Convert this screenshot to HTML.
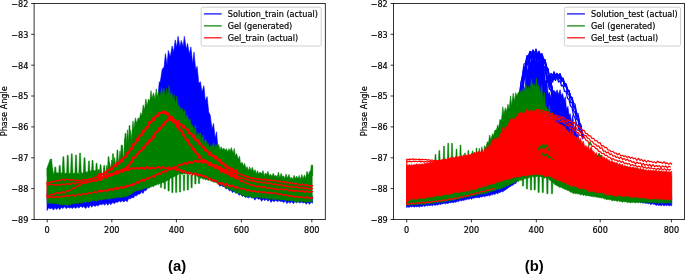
<!DOCTYPE html>
<html><head><meta charset="utf-8"><title>Phase Angle</title>
<style>
html,body{margin:0;padding:0;background:#fff;}
body{width:685px;height:274px;overflow:hidden;position:relative;}
svg{position:absolute;left:0;top:0;display:block;}
svg text{font-family:"DejaVu Sans","Liberation Sans",sans-serif;font-size:8.15px;fill:#000;stroke:#000;stroke-width:0.18px;}
svg text.cap{font-family:"Liberation Sans",sans-serif;font-weight:bold;font-size:14.8px;stroke:none;}
</style></head><body>
<svg width="685" height="274" viewBox="0 0 685 274">
<rect width="685" height="274" fill="#fff"/>
<g id="left">
<path d="M47 190.5 L48.6 191.6 L50.5 190.8 L51.6 191.1 L53.7 190.6 L54.9 190.7 L56.6 189.6 L58.4 190.5 L59.7 189.4 L61.4 190.3 L62.7 189.2 L64.8 190 L66.2 188.9 L67.7 190 L69.6 188.3 L70.9 189.7 L72.6 188.2 L74 189.6 L75.7 188.4 L77.2 188.9 L78.8 187.5 L80.8 188.6 L82.1 187.1 L83.8 188.1 L85.7 187.2 L87.3 188 L88.7 186.9 L90.2 187.8 L91.7 186.8 L93.2 187.4 L95.3 186.1 L96.6 187 L98 185.9 L99.9 187.6 L101.6 184.2 L103.1 185.1 L104.9 181.5 L105.9 183.4 L107.8 179.2 L109.4 178.9 L110.7 176.8 L112.7 177.1 L114.4 172.5 L115.9 173.9 L117.2 169.8 L119.2 170.8 L120.6 168.1 L122.2 168.1 L124 164.7 L125.2 164.6 L127.2 161.4 L128.7 162.3 L130.4 157.6 L131.6 158.6 L133.6 155.4 L134.8 155.8 L136.3 153.6 L138.4 154 L140 146.5 L141.6 144.8 L143 138.6 L144.5 136.2 L145.9 127.5 L147.9 126 L149.5 116.8 L151.2 122.3 L152.5 111.7 L154 115.2 L155.9 103.4 L157.6 99.3 L159.3 82.1 L160.4 81.2 L162.2 69.3 L164.1 67.1 L165.4 53.6 L167.1 64.8 L168.3 50.5 L170.3 57 L172.1 46 L173.6 52.3 L175.2 39.9 L176.7 47.6 L178 36.3 L180 47.2 L181.2 40.4 L183.2 46.4 L184.3 36.4 L186.4 49.3 L187.6 43.4 L189.3 54.2 L190.9 46.9 L192.7 64.1 L194 52.1 L195.7 69.7 L197.1 66.4 L198.8 83.2 L200.5 81.8 L201.9 92.1 L203.9 85.8 L205.3 101 L207.1 96.6 L208.7 112 L210.2 115.1 L212 128.8 L213.5 123.5 L215.2 138.3 L216.5 131.8 L218.2 151 L219.6 151.1 L221.7 160.6 L222.8 153 L224.4 166.7 L225.9 162 L227.6 166.9 L229.6 165 L231.1 170 L232.4 167.7 L234.1 172.4 L235.7 172.2 L237.5 175.2 L239 175.8 L240.7 179.5 L242.4 179.5 L243.9 181.6 L245.3 182 L247 185.6 L248.5 183.5 L250 187.3 L251.6 186.5 L253.3 187.5 L254.9 187 L256.5 187.7 L258.2 187.3 L260.1 188.5 L261.6 187.1 L263.2 189.1 L264.8 188.1 L266.3 189.3 L268.1 188.6 L269.5 189.7 L271 189.2 L272.3 190.7 L274.2 189.5 L275.6 191 L277.2 189.5 L279 191.6 L280.8 190.7 L282.1 191.7 L284 190.8 L285.4 192.8 L286.8 192.1 L288.9 193.5 L290.1 192.2 L291.7 193.4 L293.6 192 L294.8 194 L296.7 192.7 L298 194.4 L299.7 192.9 L301.2 195.3 L303.2 193.6 L304.5 195.7 L306.5 194.1 L307.9 196.5 L309.5 194.7 L311 196.9 L312.6 195.8 L312.6 203.2 L311 202 L309.5 204.4 L307.9 201.8 L306.5 204.3 L304.5 202.3 L303.2 203.1 L301.2 201.9 L299.7 203 L298 201.4 L296.7 203 L294.8 201.6 L293.6 203.8 L291.7 201.5 L290.1 203.3 L288.9 201.8 L286.8 203.5 L285.4 200.7 L284 202.6 L282.1 201.3 L280.8 201.6 L279 200.7 L277.2 201.5 L275.6 200.2 L274.2 201.8 L272.3 200.4 L271 202.4 L269.5 199.4 L268.1 201.2 L266.3 199.2 L264.8 200.7 L263.2 199 L261.6 201.3 L260.1 198.7 L258.2 199.2 L256.5 197.7 L254.9 200.2 L253.3 197.6 L251.6 198.1 L250 196.5 L248.5 197.9 L247 196.8 L245.3 197.5 L243.9 195.4 L242.4 196.4 L240.7 194.3 L239 195.3 L237.5 192.4 L235.7 193.3 L234.1 191.1 L232.4 192.7 L231.1 189.8 L229.6 191.1 L227.6 188 L225.9 189.1 L224.4 186.2 L222.8 186.8 L221.7 185.2 L219.6 186.2 L218.2 182.2 L216.5 181.8 L215.2 179.5 L213.5 179 L212 175.7 L210.2 176.2 L208.7 172.3 L207.1 172.3 L205.3 169.6 L203.9 171.8 L201.9 169.6 L200.5 171.1 L198.8 169.9 L197.1 170.6 L195.7 169.7 L194 170.6 L192.7 169.5 L190.9 170.6 L189.3 169 L187.6 170.4 L186.4 169.8 L184.3 172 L183.2 169.2 L181.2 170.7 L180 169.3 L178 170.5 L176.7 169.1 L175.2 170.6 L173.6 169.9 L172.1 171.7 L170.3 170 L168.3 171.7 L167.1 170.7 L165.4 173.3 L164.1 172.7 L162.2 174.9 L160.4 174.4 L159.3 176.5 L157.6 176.3 L155.9 180.1 L154 181.3 L152.5 184 L151.2 184.6 L149.5 188 L147.9 187.5 L145.9 190.8 L144.5 190.3 L143 193.5 L141.6 191.8 L140 194.1 L138.4 194.1 L136.3 195.9 L134.8 195.5 L133.6 197.9 L131.6 197.4 L130.4 199 L128.7 198.4 L127.2 201.7 L125.2 200.2 L124 202.1 L122.2 200.7 L120.6 202 L119.2 200.9 L117.2 202.5 L115.9 201.8 L114.4 203.7 L112.7 202.4 L110.7 204.8 L109.4 202.8 L107.8 205.3 L105.9 202.8 L104.9 205.3 L103.1 203.7 L101.6 204.8 L99.9 204.3 L98 206.1 L96.6 205 L95.3 206.4 L93.2 205.3 L91.7 207.3 L90.2 205 L88.7 208.1 L87.3 206.1 L85.7 208.5 L83.8 206.5 L82.1 207.6 L80.8 206.2 L78.8 208.1 L77.2 206.8 L75.7 208.5 L74 206.8 L72.6 208.6 L70.9 207.5 L69.6 208.1 L67.7 207.2 L66.2 208.7 L64.8 206.7 L62.7 208.6 L61.4 207.2 L59.7 209.7 L58.4 207.5 L56.6 209.5 L54.9 207.5 L53.7 210.1 L51.6 207.9 L50.5 208.9 L48.6 207.8 L47 210.5Z" fill="#0000ff" stroke="#0000ff" stroke-width="0.6" stroke-linejoin="round"/>
<path d="M47 168 L48.2 169.3 L49.5 165.2 L51.1 170.5 L52 168 L53.6 174.5 L54.9 172.3 L55.9 173.5 L57.2 172.4 L58.6 173.6 L60.1 172.8 L61.3 173.6 L62.4 172.2 L63.9 173.7 L65.3 173 L66.5 173.7 L67.9 172.5 L69.3 173.6 L70.5 172.9 L71.6 173.7 L72.8 173.2 L74.2 173.6 L75.6 172.4 L77.1 173.7 L78.3 172.9 L79.4 173.8 L81 172.4 L82.1 173.4 L83.5 172.2 L84.5 173.2 L85.8 171.5 L87.1 172.5 L88.8 170.7 L90 171.8 L91.4 170.2 L92.6 171.5 L93.8 170.2 L95.1 171.1 L96.4 170.2 L97.9 171 L99 169 L100.5 179.8 L101.7 176.1 L103.1 180.9 L104.2 167.6 L105.6 179.6 L106.7 165.3 L108.1 178.2 L109.3 161.9 L110.5 168.8 L111.8 160 L113.4 166.3 L114.6 157.4 L116.1 166.8 L117.4 158.3 L118.4 165.3 L120 150.9 L121.1 160.4 L122.5 145.4 L123.7 161.5 L124.8 138.5 L126.1 147.7 L127.4 129.8 L129 147.9 L130 130.1 L131.3 139 L133 120.9 L133.9 128.9 L135.4 117.8 L136.7 123.5 L138.1 117.8 L139.3 119.4 L140.8 112.7 L142 115.8 L143.2 104.9 L144.6 109.8 L145.8 98.9 L147.3 105.9 L148.3 99.1 L149.8 100.9 L151 90.7 L152.1 98.2 L153.5 92.8 L155.1 98.9 L156.3 88.8 L157.2 97.3 L158.7 91.8 L159.8 97.8 L161.6 87.6 L162.5 94.9 L163.8 88.3 L165.6 97.9 L166.6 88.5 L167.8 96.3 L169 85.7 L170.4 95.6 L171.7 92.2 L173.1 99.9 L174.1 94.9 L175.5 104.6 L176.8 96.2 L178.3 106.2 L179.5 105.6 L181 111.4 L182.1 108 L183.7 113 L185 109.7 L185.9 118.7 L187.2 114.6 L188.7 120.8 L190.1 119.2 L191.1 125.2 L192.4 125.1 L193.9 130.2 L195.3 125.4 L196.7 136.5 L198 133 L199.3 137.6 L200.2 132.5 L201.9 141 L203.1 134.9 L204.1 143.4 L205.5 138.8 L207 144.3 L208.1 143 L209.5 148.5 L211 144.8 L212.3 147.1 L213.4 142.7 L214.9 148.3 L216 144 L217.5 148.6 L218.7 144.4 L220.1 150.2 L221 146.7 L222.7 149.8 L223.8 147.9 L225.2 150.7 L226.2 148.6 L227.7 151.7 L228.9 148.7 L230.1 151.3 L231.3 147.6 L233.1 153.2 L234.3 148.4 L235.3 156 L236.7 153.6 L238.1 159.1 L239.6 156.2 L240.5 163.8 L242.2 162.3 L243.5 166.6 L244.5 163.2 L246 168.5 L247.1 166.7 L248.6 171.1 L249.6 166.8 L251.1 170.5 L252.4 167.3 L253.8 172 L255.1 169.7 L256.5 173.9 L257.5 170.7 L258.7 173.8 L260.1 172.1 L261.5 173.9 L263 170.6 L264.2 175.7 L265.5 173 L266.9 174.6 L267.9 171.3 L269.2 175.7 L270.6 174.1 L271.8 176.5 L273.3 173.2 L274.7 177.1 L275.6 175 L277.1 177.5 L278.5 172 L279.7 178 L281.2 173.3 L282.4 176.8 L283.8 175.9 L284.7 179 L286 173.9 L287.3 178.1 L289 174.4 L290.3 179.3 L291.1 177.1 L292.9 179.1 L294.1 175.3 L295.5 178.8 L296.5 176.1 L298 178.8 L299.1 175.4 L300.3 179.6 L301.9 174.6 L302.9 179 L304.5 174.9 L305.6 178.5 L307 171.3 L308.5 175.5 L309.5 171.4 L310.9 171.7 L312.2 166.2 L312.2 202.6 L310.9 201.7 L309.5 202.3 L308.5 201.4 L307 202.2 L305.6 201.7 L304.5 202.3 L302.9 201.3 L301.9 202 L300.3 201.3 L299.1 202 L298 201.3 L296.5 202.5 L295.5 201.4 L294.1 201.5 L292.9 200.8 L291.1 201.2 L290.3 200.5 L289 201 L287.3 200.1 L286 201.1 L284.7 199.9 L283.8 200.5 L282.4 199.6 L281.2 200.3 L279.7 199.6 L278.5 200 L277.1 199 L275.6 200.1 L274.7 199 L273.3 200 L271.8 198.4 L270.6 199.4 L269.2 198.1 L267.9 199.4 L266.9 197.9 L265.5 199.1 L264.2 197.5 L263 198.8 L261.5 197.2 L260.1 198.5 L258.7 196.9 L257.5 198 L256.5 196.7 L255.1 198.1 L253.8 196.9 L252.4 197.6 L251.1 196.8 L249.6 196.9 L248.6 196.2 L247.1 197.3 L246 196.1 L244.5 196.4 L243.5 194.7 L242.2 195.7 L240.5 194 L239.6 194.1 L238.1 192.7 L236.7 193.4 L235.3 191.9 L234.3 192.1 L233.1 190.6 L231.3 190.4 L230.1 189.2 L228.9 189.2 L227.7 188.3 L226.2 188.4 L225.2 186.9 L223.8 187 L222.7 185.6 L221 185.5 L220.1 184.1 L218.7 184.1 L217.5 182.8 L216 182.7 L214.9 182 L213.4 182.3 L212.3 181.3 L211 181.1 L209.5 180 L208.1 180.6 L207 179.2 L205.5 179.9 L204.1 178.6 L203.1 179.4 L201.9 177.9 L200.2 178.3 L199.3 176.6 L198 177.2 L196.7 175 L195.3 175.5 L193.9 173.6 L192.4 174.4 L191.1 173.3 L190.1 174.3 L188.7 173.9 L187.2 174.5 L185.9 173.6 L185 174.2 L183.7 173.6 L182.1 174.6 L181 173.9 L179.5 174.5 L178.3 174.2 L176.8 175.5 L175.5 175.8 L174.1 176.8 L173.1 176.8 L171.7 177.9 L170.4 178 L169 180.3 L167.8 180 L166.6 181.1 L165.6 181.2 L163.8 182.8 L162.5 182.5 L161.6 183.4 L159.8 183.2 L158.7 184.5 L157.2 184.1 L156.3 185.3 L155.1 184.9 L153.5 186.6 L152.1 186.3 L151 187.1 L149.8 186.8 L148.3 188.2 L147.3 187.4 L145.8 188.3 L144.6 188.2 L143.2 189.2 L142 189.1 L140.8 190.3 L139.3 189.7 L138.1 191.1 L136.7 190.5 L135.4 191.5 L133.9 191.7 L133 192.9 L131.3 193.6 L130 195 L129 195.1 L127.4 196.2 L126.1 196.3 L124.8 197.2 L123.7 196.5 L122.5 197.2 L121.1 197.1 L120 197.8 L118.4 197.1 L117.4 198 L116.1 197.4 L114.6 198.4 L113.4 197.8 L111.8 198.6 L110.5 198.4 L109.3 199.6 L108.1 198.4 L106.7 199.3 L105.6 198.6 L104.2 199.5 L103.1 199.1 L101.7 200.2 L100.5 199.5 L99 200.3 L97.9 200.2 L96.4 201.2 L95.1 200.4 L93.8 201.1 L92.6 200.6 L91.4 201.7 L90 201.3 L88.8 202.2 L87.1 201.6 L85.8 202.7 L84.5 201.8 L83.5 202.9 L82.1 202.6 L81 203.4 L79.4 202.6 L78.3 203.5 L77.1 203.2 L75.6 203.7 L74.2 203.2 L72.8 204.1 L71.6 203.8 L70.5 205 L69.3 204.3 L67.9 205.6 L66.5 204.7 L65.3 205.4 L63.9 204.2 L62.4 205.2 L61.3 204.3 L60.1 205.1 L58.6 203.7 L57.2 204 L55.9 203.6 L54.9 203.8 L53.6 202.9 L52 203.5 L51.1 202.9 L49.5 203.5 L48.2 202.9 L47 203.5Z" fill="#008000" stroke="#008000" stroke-width="0.6" stroke-linejoin="round"/>
<path d="M47 176L47 168L50.3 159L51.6 159L53.2 176ZM54 176L54.8 167L55.8 167L56.5 176ZM58.5 176L59.2 165.4L60.2 165.4L61 176ZM62.1 176L62.9 156.7L63.9 156.7L64.7 176ZM66.5 175.2L67.2 155.2L68.2 155.2L69 175.2ZM70.5 173.8L71.3 153.8L72.2 153.8L73 173.8ZM74.8 175L75.5 155L76.5 155L77.2 175ZM78.8 173L79.6 153L80.5 153L81.3 173ZM83.2 176L84 157.8L85 157.8L85.8 176ZM87.7 176L88.5 161L89.4 161L90.2 176ZM91.3 176L92.1 160.3L93 160.3L93.8 176ZM95.3 176L96.1 163.2L97 163.2L97.8 176ZM99.3 176L100.1 164.7L101 164.7L101.8 176ZM103 176L103.8 165.4L104.7 165.4L105.5 176ZM107.3 176L108.1 156.7L109 156.7L109.8 176ZM111.8 173.8L112.5 153.8L113.5 153.8L114.2 173.8ZM116.2 170L117 150L117.9 150L118.7 170ZM120.3 165L121.1 145L122 145L122.8 165ZM124.2 153.4L125 133.4L126 133.4L126.8 153.4ZM128.2 145.5L129.1 125.5L129.9 125.5L130.8 145.5Z" fill="#008000" stroke="#008000" stroke-width="0.5" stroke-linejoin="round"/>
<path d="M160.2 175L160.4 187.5L161.6 187.5L161.8 175ZM164 175L164.2 189L165.4 189L165.7 175ZM167.8 175L168 191L169.2 191L169.4 175ZM171.6 175L171.8 192.6L173 192.6L173.2 175ZM175.3 175L175.6 192.4L176.8 192.4L177 175ZM179.2 175L179.4 192L180.6 192L180.8 175ZM183.2 175L183.4 190.6L184.6 190.6L184.8 175ZM187 175L187.2 190L188.4 190L188.7 175ZM190.8 175L191 187.8L192.2 187.8L192.4 175ZM194.6 175L194.8 184L196 184L196.2 175ZM198.2 175L198.4 183.5L199.6 183.5L199.8 175ZM310 176L311.3 165L312.7 165L312.7 176Z" fill="#008000" stroke="#008000" stroke-width="0.5" stroke-linejoin="round"/>
<path d="M47 182 L48.6 183.1 L50.2 181.9 L51.8 182.2 L53.4 181.1 L55 181.5 L56.6 180.7 L58.2 181 L59.8 179.8 L61.4 180.3 L63 179.2 L64.6 180.3 L66.2 179.1 L67.8 179.9 L69.4 179.2 L71 180.4 L72.6 179.6 L74.2 180.6 L75.8 179.7 L77.4 181.2 L79 179.9 L80.6 180.9 L82.2 179.6 L83.8 180.6 L85.4 179.2 L87 180.2 L88.6 179.1 L90.2 179.5 L91.8 178 L93.4 178.8 L95 177.3 L96.6 177.3 L98.2 174.4 L99.8 176.7" fill="none" stroke="#ff0000" stroke-width="1.3" stroke-linejoin="round" stroke-linecap="round"/>
<path d="M98.2 174.4 L99.8 176.7 L101.4 173.6 L103 174.6 L104.6 172.3 L106.2 172.7 L107.8 169.8 L109.4 170.5 L111 168 L112.6 168.6 L114.2 165.3 L115.8 166.3 L117.4 162.4 L119 163.8 L120.6 160.5 L122.2 161.1 L123.8 157 L125.4 157.4 L127 153.2 L128.6 153.5 L130.2 148.4 L131.8 149.1 L133.4 144.1 L135 144.3 L136.6 139.2 L138.2 140.1 L139.8 135 L141.4 135.5 L143 130.8 L144.6 131.4 L146.2 127 L147.8 127.5 L149.4 121.9 L151 123 L152.6 118.7 L154.2 120.1 L155.8 115.5 L157.4 116.7 L159 113 L160.6 113.2 L162.2 111.7 L163.8 113.5 L165.4 111.5 L167 114.1 L168.6 113.6 L170.2 117.8 L171.8 116.8 L173.4 122.1 L175 121.9 L176.6 126.6 L178.2 125.6 L179.8 130.3 L181.4 130.5 L183 134.7 L184.6 135.6 L186.2 140.5 L187.8 139.9 L189.4 144.3 L191 144.7 L192.6 149.4 L194.2 149 L195.8 152.8 L197.4 153.7 L199 157.5 L200.6 156.5 L202.2 161 L203.8 160 L205.4 161.5 L207 161.1 L208.6 164.2 L210.2 163 L211.8 165.5 L213.4 164.6 L215 167.1 L216.6 165.4 L218.2 168.2 L219.8 167 L221.4 170.2 L223 168.9 L224.6 170.8 L226.2 169.7 L227.8 172.4 L229.4 171.1 L231 174.1 L232.6 172.3 L234.2 176.6 L235.8 174.4 L237.4 176.8" fill="none" stroke="#ff0000" stroke-width="2.2" stroke-linejoin="round" stroke-linecap="round"/>
<path d="M237.4 176.8 L239 176.7 L240.6 178.5 L242.2 177.5 L243.8 178.8 L245.4 178.6 L247 179.9 L248.6 179.8 L250.2 180.9 L251.8 180 L253.4 181.6 L255 181 L256.6 182.1 L258.2 181.4 L259.8 182.7 L261.4 182.1 L263 183 L264.6 182.3 L266.2 183.3 L267.8 182.8 L269.4 184 L271 183.3 L272.6 184.5 L274.2 183.9 L275.8 184.9 L277.4 184.1 L279 185.4 L280.6 184.4 L282.2 185.5 L283.8 185.3 L285.4 186.3 L287 186 L288.6 186.8 L290.2 186.3 L291.8 187.5 L293.4 186.5 L295 187.5 L296.6 186.7 L298.2 187.9 L299.8 187.7 L301.4 188.2 L303 187.5 L304.6 188.5 L306.2 187.9 L307.8 188.9 L309.4 188.3 L311 189.1 L312.6 188.4" fill="none" stroke="#ff0000" stroke-width="1.4" stroke-linejoin="round" stroke-linecap="round"/>
<path d="M47 184 L48.6 185 L50.2 184.1 L51.8 185 L53.4 184.4 L55 185.5 L56.6 184.7 L58.2 185.2 L59.8 184.2 L61.4 185.1 L63 184 L64.6 184.7 L66.2 183.6 L67.8 184.4 L69.4 183.5 L71 184.3 L72.6 182.8 L74.2 184 L75.8 182.5 L77.4 183.4 L79 182.2 L80.6 182.8 L82.2 181.9 L83.8 182.4 L85.4 181.3 L87 181.9 L88.6 181.2 L90.2 181.7 L91.8 180.2 L93.4 180.9 L95 179.5 L96.6 180.4 L98.2 177.7 L99.8 180.3" fill="none" stroke="#ff0000" stroke-width="1.3" stroke-linejoin="round" stroke-linecap="round"/>
<path d="M98.2 177.7 L99.8 180.3 L101.4 177.1 L103 177.7 L104.6 175.6 L106.2 177.5 L107.8 174.3 L109.4 176.1 L111 174 L112.6 174.9 L114.2 172.4 L115.8 173.9 L117.4 170.9 L119 172.6 L120.6 170.3 L122.2 171.1 L123.8 168.5 L125.4 170.5 L127 166.8 L128.6 167.1 L130.2 162.1 L131.8 162 L133.4 157.2 L135 158.1 L136.6 154.2 L138.2 153.7 L139.8 151.2 L141.4 150.9 L143 147.5 L144.6 147.8 L146.2 143.3 L147.8 143.7 L149.4 140.2 L151 141 L152.6 136.6 L154.2 137.3 L155.8 132 L157.4 131.8 L159 128.4 L160.6 129 L162.2 124.9 L163.8 125 L165.4 121.5 L167 121.7 L168.6 117.6 L170.2 120.1 L171.8 117.7 L173.4 120.3 L175 119.7 L176.6 123.8 L178.2 121.1 L179.8 125.3 L181.4 124.3 L183 127.5 L184.6 126.4 L186.2 129.4 L187.8 129.7 L189.4 133.8 L191 133 L192.6 136.6 L194.2 136 L195.8 140.7 L197.4 139.5 L199 143.6 L200.6 143.5 L202.2 147.1 L203.8 147.1 L205.4 150.9 L207 149.8 L208.6 154.3 L210.2 152.7 L211.8 156.3 L213.4 155.3 L215 158.3 L216.6 157 L218.2 160.7 L219.8 159.7 L221.4 163.6 L223 162.8 L224.6 166 L226.2 165.3 L227.8 168.4 L229.4 167.2 L231 170 L232.6 168.8 L234.2 171.9 L235.8 170.1 L237.4 173" fill="none" stroke="#ff0000" stroke-width="2.2" stroke-linejoin="round" stroke-linecap="round"/>
<path d="M237.4 173 L239 173.4 L240.6 174.6 L242.2 174.4 L243.8 176 L245.4 175.6 L247 177.1 L248.6 176.6 L250.2 178 L251.8 177.4 L253.4 179 L255 178 L256.6 179 L258.2 178.7 L259.8 179.6 L261.4 178.8 L263 179.9 L264.6 179.2 L266.2 180.6 L267.8 179.2 L269.4 180.6 L271 179.8 L272.6 180.9 L274.2 180 L275.8 181.2 L277.4 180.6 L279 181.8 L280.6 181.3 L282.2 182.1 L283.8 181.5 L285.4 183.1 L287 182 L288.6 183 L290.2 182.5 L291.8 183.6 L293.4 183.1 L295 184.2 L296.6 183.4 L298.2 184.7 L299.8 184.3 L301.4 185.3 L303 184 L304.6 185.5 L306.2 184.6 L307.8 185.9 L309.4 185.1 L311 186.5 L312.6 185.6" fill="none" stroke="#ff0000" stroke-width="1.4" stroke-linejoin="round" stroke-linecap="round"/>
<path d="M47 196.3 L48.6 197.6 L50.2 196.6 L51.8 197.6 L53.4 196.6 L55 197.6 L56.6 196.6 L58.2 197.4 L59.8 196 L61.4 197.3 L63 196 L64.6 196.4 L66.2 195.4 L67.8 196.8 L69.4 195.1 L71 195.7 L72.6 194.8 L74.2 196.2 L75.8 194.6 L77.4 195.3 L79 194 L80.6 195.1 L82.2 193.7 L83.8 194.7 L85.4 193.3 L87 194.3 L88.6 192.8 L90.2 193.6 L91.8 192.3 L93.4 193 L95 191.5 L96.6 192.7 L98.2 190.8 L99.8 191.8" fill="none" stroke="#ff0000" stroke-width="1.3" stroke-linejoin="round" stroke-linecap="round"/>
<path d="M98.2 190.8 L99.8 191.8 L101.4 190.1 L103 191.4 L104.6 190.4 L106.2 191 L107.8 189.5 L109.4 190.4 L111 188.8 L112.6 190 L114.2 188.1 L115.8 189.4 L117.4 187.3 L119 188.8 L120.6 186.8 L122.2 188.1 L123.8 186.3 L125.4 187.7 L127 185.4 L128.6 186.2 L130.2 184.8 L131.8 185.7 L133.4 183.3 L135 184.7 L136.6 181.9 L138.2 183.1 L139.8 180.4 L141.4 181.4 L143 179.2 L144.6 180.8 L146.2 178.4 L147.8 179.1 L149.4 177.4 L151 177.5 L152.6 176 L154.2 177 L155.8 174.4 L157.4 175 L159 173.2 L160.6 174.1 L162.2 171.9 L163.8 172.4 L165.4 170.5 L167 171.6 L168.6 168.9 L170.2 169.2 L171.8 167.8 L173.4 168.1 L175 166.7 L176.6 167.6 L178.2 165.1 L179.8 165.5 L181.4 164 L183 164.7 L184.6 162.8 L186.2 164.3 L187.8 161.9 L189.4 163.5 L191 161.8 L192.6 162.9 L194.2 160.8 L195.8 162.2 L197.4 160.4 L199 162.1 L200.6 160.6 L202.2 162.9 L203.8 161.4 L205.4 163 L207 162.5 L208.6 165.1 L210.2 164.5 L211.8 166.2 L213.4 165.9 L215 168.1 L216.6 167.6 L218.2 169.3 L219.8 168.8 L221.4 172.3 L223 170.8 L224.6 172.9 L226.2 172.1 L227.8 174.8 L229.4 174.3 L231 176.5 L232.6 175.7 L234.2 177.8 L235.8 177.1 L237.4 179" fill="none" stroke="#ff0000" stroke-width="1.7" stroke-linejoin="round" stroke-linecap="round"/>
<path d="M237.4 179 L239 178.9 L240.6 181.4 L242.2 180.7 L243.8 182.5 L245.4 182.3 L247 183.8 L248.6 183.8 L250.2 185.2 L251.8 184.6 L253.4 186.1 L255 185.6 L256.6 186.8 L258.2 186 L259.8 187.3 L261.4 186.3 L263 187.1 L264.6 186.8 L266.2 188.4 L267.8 187.4 L269.4 188.6 L271 187.8 L272.6 188.8 L274.2 188.6 L275.8 189.6 L277.4 188.8 L279 190 L280.6 188.9 L282.2 189.6 L283.8 189.1 L285.4 190.1 L287 189 L288.6 190.9 L290.2 190 L291.8 191.3 L293.4 190.2 L295 191.3 L296.6 190.5 L298.2 191.5 L299.8 190.8 L301.4 191.9 L303 190.6 L304.6 192.2 L306.2 190.9 L307.8 192.3 L309.4 191.5 L311 192.1 L312.6 191.6" fill="none" stroke="#ff0000" stroke-width="1.4" stroke-linejoin="round" stroke-linecap="round"/>
<path d="M47 195.5 L48.6 196.1 L50.2 194.3 L51.8 195.3 L53.4 193.6 L55 194 L56.6 192.6 L58.2 193.3 L59.8 192.3 L61.4 193.5 L63 191.4 L64.6 192.8 L66.2 190.9 L67.8 191.5 L69.4 189.8 L71 190.2 L72.6 188.3 L74.2 188.4 L75.8 186.3 L77.4 186.7 L79 184.9 L80.6 185 L82.2 183.2 L83.8 183.6 L85.4 182 L87 183.2 L88.6 181.6 L90.2 182 L91.8 180.4 L93.4 181.7 L95 180.4 L96.6 181 L98.2 178.9 L99.8 180.1" fill="none" stroke="#ff0000" stroke-width="1.3" stroke-linejoin="round" stroke-linecap="round"/>
<path d="M98.2 178.9 L99.8 180.1 L101.4 178.4 L103 178.8 L104.6 176.5 L106.2 177.7 L107.8 176.3 L109.4 176.7 L111 173.9 L112.6 174.9 L114.2 173 L115.8 174.5 L117.4 172.4 L119 173 L120.6 170.5 L122.2 172 L123.8 169.7 L125.4 170.9 L127 168.6 L128.6 170 L130.2 168.7 L131.8 168.8 L133.4 167.8 L135 169 L136.6 167.9 L138.2 168.9 L139.8 167.5 L141.4 168.8 L143 167.4 L144.6 169 L146.2 166.7 L147.8 168.8 L149.4 167 L151 169 L152.6 167.5 L154.2 168.7 L155.8 167.4 L157.4 167.8 L159 166.8 L160.6 168.7 L162.2 166.6 L163.8 168.3 L165.4 167.5 L167 168.6 L168.6 167.1 L170.2 169.3 L171.8 167.8 L173.4 169.4 L175 168.3 L176.6 170.2 L178.2 168.9 L179.8 171.4 L181.4 169.7 L183 172.2 L184.6 171.2 L186.2 173 L187.8 172.1 L189.4 174 L191 172.4 L192.6 174.7 L194.2 173.1 L195.8 175 L197.4 173.7 L199 175.6 L200.6 174.8 L202.2 176 L203.8 175.6 L205.4 177.3 L207 176.9 L208.6 179.4 L210.2 178.4 L211.8 180.6 L213.4 179.6 L215 181.2 L216.6 180.8 L218.2 183.8 L219.8 182.6 L221.4 184.3 L223 183 L224.6 185.8 L226.2 183.3 L227.8 186.1 L229.4 184.7 L231 186.7 L232.6 185.4 L234.2 187.4 L235.8 186.7 L237.4 188.2" fill="none" stroke="#ff0000" stroke-width="1.7" stroke-linejoin="round" stroke-linecap="round"/>
<path d="M237.4 188.2 L239 187.3 L240.6 188.9 L242.2 188.4 L243.8 189.7 L245.4 189 L247 190.7 L248.6 189.8 L250.2 191.1 L251.8 190.6 L253.4 191.8 L255 191 L256.6 192 L258.2 191.2 L259.8 192.5 L261.4 191.7 L263 192.5 L264.6 191.9 L266.2 193.1 L267.8 192 L269.4 193.6 L271 192.5 L272.6 193.4 L274.2 192.9 L275.8 193.6 L277.4 193.3 L279 194.3 L280.6 193.8 L282.2 195.3 L283.8 194.3 L285.4 195.3 L287 194.9 L288.6 196.1 L290.2 195.5 L291.8 196.6 L293.4 195.8 L295 197.4 L296.6 196.4 L298.2 197.4 L299.8 196.7 L301.4 197.6 L303 196.8 L304.6 198 L306.2 196.7 L307.8 198.1 L309.4 197 L311 198.8 L312.6 197.6" fill="none" stroke="#ff0000" stroke-width="1.4" stroke-linejoin="round" stroke-linecap="round"/>
<path d="M47.2 182V199" stroke="#ff0000" stroke-width="1.2" fill="none"/>
<path d="M34.1 3.5h-2.9M34.1 34.3h-2.9M34.1 65.2h-2.9M34.1 96h-2.9M34.1 126.9h-2.9M34.1 157.8h-2.9M34.1 188.6h-2.9M34.1 219.5h-2.9M47.2 219.5v2.9M111.8 219.5v2.9M176.4 219.5v2.9M241.4 219.5v2.9M311.8 219.5v2.9" stroke="#000" stroke-width="0.8" fill="none"/>
<rect x="34.1" y="3.5" width="291.2" height="216.1" fill="none" stroke="#000" stroke-width="0.8"/>
<text x="28.4" y="6.8" text-anchor="end">−82</text>
<text x="28.4" y="37.7" text-anchor="end">−83</text>
<text x="28.4" y="68.5" text-anchor="end">−84</text>
<text x="28.4" y="99.4" text-anchor="end">−85</text>
<text x="28.4" y="130.3" text-anchor="end">−86</text>
<text x="28.4" y="161.1" text-anchor="end">−87</text>
<text x="28.4" y="192" text-anchor="end">−88</text>
<text x="28.4" y="222.8" text-anchor="end">−89</text>
<text x="47.2" y="232.7" text-anchor="middle">0</text>
<text x="111.8" y="232.7" text-anchor="middle">200</text>
<text x="176.4" y="232.7" text-anchor="middle">400</text>
<text x="241.4" y="232.7" text-anchor="middle">600</text>
<text x="311.8" y="232.7" text-anchor="middle">800</text>
<rect x="201.2" y="7.2" width="120" height="38.8" rx="1.6" fill="#fff" fill-opacity="0.8" stroke="#c4c4c4" stroke-width="0.8"/>
<path d="M203.9 13.9h17.8" stroke="#0000ff" stroke-width="1.2"/>
<text x="227.8" y="16.8">Solution_train (actual)</text>
<path d="M203.9 25.9h17.8" stroke="#008000" stroke-width="1.2"/>
<text x="227.8" y="28.8">Gel (generated)</text>
<path d="M203.9 37.8h17.8" stroke="#ff0000" stroke-width="1.2"/>
<text x="227.8" y="40.7">Gel_train (actual)</text>
<text transform="translate(6.9 111.2) rotate(-90)" text-anchor="middle">Phase Angle</text>
</g>
<g id="right">
<path d="M406.5 190.8 L407.6 191.8 L409 190.3 L410.6 190.6 L411.7 189.2 L412.8 190.3 L414.3 189 L415.6 189.3 L416.7 188.5 L418.3 188.7 L419.3 187.9 L420.7 188.1 L422.1 186 L423.4 187.3 L424.7 185 L426.1 187 L427.5 184.3 L428.5 185.9 L430 183.9 L431.3 185.4 L432.4 184 L433.5 184.8 L435.3 182.2 L436.3 183.8 L437.6 182.3 L439.2 183.4 L440.3 181.7 L441.6 182.4 L443 181.3 L444 181.6 L445.6 180.2 L446.7 181 L447.9 179.7 L449.5 180.8 L450.9 179.2 L451.8 179.4 L453.4 178.2 L454.5 178.6 L456 176.9 L457.3 178.1 L458.4 177 L460 177.2 L461.2 175.9 L462.5 177.2 L463.9 175.4 L465 176.6 L466.4 173.7 L467.8 175.3 L468.7 174.1 L470.4 174.4 L471.4 172.9 L472.8 173.8 L473.9 173 L475.5 173.1 L476.6 170.9 L478.2 172.2 L479.2 171.5 L480.6 172.6 L481.8 168.4 L483.3 169.6 L484.3 165.1 L485.6 166 L487.2 162.1 L488.5 162.8 L489.7 157.5 L491.2 159.1 L492.1 155.7 L493.8 155.4 L494.7 153.2 L496.4 153.2 L497.6 148.9 L498.9 149.4 L500.3 145.4 L501.5 146.8 L502.9 142.1 L503.8 142.6 L505.2 139.9 L506.4 140.6 L507.7 136.1 L509.1 137.2 L510.7 131.1 L511.6 133.2 L513 129.7 L514.4 129.9 L515.9 126.5 L517.2 127.1 L518.4 118.7 L519.5 120 L520.9 112.3 L522.3 107.5 L523.3 85.2 L524.9 89.8 L526 70.1 L527.4 69.9 L528.8 62.4 L530.1 62.2 L531.3 58.2 L532.6 60.2 L533.7 55.4 L535.2 60.7 L536.3 55.6 L537.8 62.1 L539.1 58.9 L540.5 63.9 L541.6 60.4 L542.8 67.5 L544.3 66 L545.4 81.6 L547 81.8 L548.1 93.7 L549.4 92.3 L551 97.4 L552 93.7 L553.3 96.3 L554.6 90.7 L556 92.9 L557.1 89.8 L558.6 94.5 L560.1 89.7 L561.2 95.6 L562.6 93.5 L564 100.1 L565.3 96.8 L566.5 109.3 L567.9 106.4 L569.2 116 L570.2 113.7 L571.6 122.6 L572.8 115.1 L574.1 131 L575.5 122.7 L576.7 136.2 L578.2 132.8 L579.4 144.2 L580.5 139.1 L582 148.4 L583.2 146.5 L584.7 153.8 L585.7 151.8 L587 159.3 L588.5 152.3 L589.8 163.6 L591.2 157.9 L592.3 163.9 L593.5 163.3 L595.2 167.7 L596.2 166.7 L597.4 171.6 L598.8 172.8 L600.1 175.4 L601.4 172.6 L602.8 174.7 L604.3 174.2 L605.2 176.2 L606.7 175.1 L608.1 177 L609.5 175.2 L610.9 178 L611.7 177.1 L613.2 178.6 L614.7 176.7 L615.6 178.7 L617.1 178.4 L618.2 179.6 L619.8 179.2 L621.2 180.9 L622.3 179.1 L623.3 181.8 L624.7 180.2 L626.2 182.6 L627.7 181.1 L628.7 183.8 L630.2 182.8 L631.4 184 L632.6 182.7 L634.1 185.2 L635.2 184.5 L636.5 185.9 L638 184.3 L639.2 186.5 L640.6 186.2 L641.8 187.7 L642.9 186.1 L644.4 188.2 L645.9 186.7 L647 189.2 L648.5 188.4 L649.3 189.6 L650.8 189.7 L652.3 191 L653.6 189.3 L654.8 192 L656.2 190.9 L657.6 192.2 L658.8 191.8 L660 193.4 L661.3 192.1 L662.7 194.6 L663.8 192.9 L665.3 195.3 L666.6 193.8 L667.9 195.9 L669.1 194.4 L670.2 197 L671.7 195.9 L671.7 205.9 L670.2 205 L669.1 206.2 L667.9 204.7 L666.6 205.8 L665.3 204.9 L663.8 206 L662.7 204.5 L661.3 205.9 L660 204.9 L658.8 205.5 L657.6 204.8 L656.2 205.4 L654.8 204.3 L653.6 204.5 L652.3 203.6 L650.8 204.8 L649.3 203.3 L648.5 203.8 L647 203.1 L645.9 203.5 L644.4 202.7 L642.9 203.3 L641.8 202.3 L640.6 202.6 L639.2 201.5 L638 202.1 L636.5 200.8 L635.2 201.1 L634.1 199.6 L632.6 200.1 L631.4 198.7 L630.2 199.7 L628.7 198.1 L627.7 199 L626.2 197.4 L624.7 197.5 L623.3 196.2 L622.3 196.8 L621.2 195.7 L619.8 196.2 L618.2 194.6 L617.1 195.4 L615.6 193.6 L614.7 194 L613.2 192.8 L611.7 193.8 L610.9 192.5 L609.5 192.5 L608.1 191.4 L606.7 191.5 L605.2 190.5 L604.3 190.8 L602.8 189.5 L601.4 189.7 L600.1 189 L598.8 188.9 L597.4 187.5 L596.2 188.1 L595.2 186.7 L593.5 187.4 L592.3 185.9 L591.2 185.7 L589.8 184.9 L588.5 184.9 L587 183.6 L585.7 183.6 L584.7 182.6 L583.2 183.3 L582 181.7 L580.5 181.6 L579.4 180.5 L578.2 180.9 L576.7 179.3 L575.5 180.2 L574.1 178.2 L572.8 178.5 L571.6 177.6 L570.2 177.7 L569.2 176.2 L567.9 176.6 L566.5 175.4 L565.3 176.1 L564 174.2 L562.6 174.5 L561.2 173.3 L560.1 173.3 L558.6 172.5 L557.1 173.4 L556 172.8 L554.6 173.8 L553.3 172.8 L552 173.5 L551 172.8 L549.4 173.5 L548.1 172.6 L547 173.5 L545.4 172.6 L544.3 173.8 L542.8 173 L541.6 173.9 L540.5 173 L539.1 173.4 L537.8 172.5 L536.3 173.7 L535.2 172.9 L533.7 173.2 L532.6 172.6 L531.3 173.3 L530.1 172.9 L528.8 174 L527.4 173.8 L526 174.8 L524.9 174.8 L523.3 176.5 L522.3 175.7 L520.9 177.4 L519.5 178.7 L518.4 180.7 L517.2 180.7 L515.9 183.6 L514.4 183.8 L513 185.2 L511.6 185.5 L510.7 186.6 L509.1 187.1 L507.7 188.5 L506.4 189 L505.2 190.3 L503.8 190.6 L502.9 192.1 L501.5 191.3 L500.3 192.5 L498.9 192.5 L497.6 193.9 L496.4 193.1 L494.7 194.6 L493.8 193.9 L492.1 195.1 L491.2 194.6 L489.7 196 L488.5 195.3 L487.2 196 L485.6 195.9 L484.3 197.1 L483.3 196.1 L481.8 196.9 L480.6 196.8 L479.2 197.9 L478.2 197.3 L476.6 197.8 L475.5 197.4 L473.9 198.2 L472.8 198 L471.4 199.4 L470.4 198.3 L468.7 199.6 L467.8 198.8 L466.4 199.8 L465 199.6 L463.9 200.6 L462.5 200.2 L461.2 201.1 L460 200.2 L458.4 201.9 L457.3 200.9 L456 202.5 L454.5 201.7 L453.4 202.9 L451.8 201.9 L450.9 203 L449.5 202.4 L447.9 203.7 L446.7 202.9 L445.6 204.1 L444 203.1 L443 204 L441.6 203.7 L440.3 204.9 L439.2 203.7 L437.6 205.3 L436.3 204.5 L435.3 205.6 L433.5 204.4 L432.4 206 L431.3 205.1 L430 205.7 L428.5 205.3 L427.5 206 L426.1 205.4 L424.7 206.5 L423.4 205.6 L422.1 206.8 L420.7 205.9 L419.3 207.3 L418.3 206.2 L416.7 206.9 L415.6 206.3 L414.3 207.2 L412.8 206.2 L411.7 207.1 L410.6 206.5 L409 207.3 L407.6 206.9 L406.5 207.6Z" fill="#0000ff" stroke="#0000ff" stroke-width="0.6" stroke-linejoin="round"/>
<path d="M512 123.1 L513.5 124.7 L515 120 L516.5 118 L518 110.3 L519.5 108.1 L521 97.8 L522.5 90.8 L524 78.2 L525.5 72.2 L527 62.2 L528.5 60.2 L530 55.1 L531.5 57.3 L533 52.3 L534.5 55.2 L536 52.2 L537.5 56.6 L539 53.5 L540.5 57.5 L542 55.7 L543.5 60.5 L545 59.6 L546.5 67.3 L548 68.6 L549.5 78.7 L551 81.6 L552.5 91 L554 91.9 L555.5 100.1 L557 98.8 L558.5 105 L560 105 L561.5 111.7 L563 110.2 L564.5 115.4 L566 115.8 L567.5 122.4 L569 122.6 L570.5 127 L572 127 L573.5 132.8 L575 133.7 L576.5 138.1 L578 136.3" fill="none" stroke="#0000ff" stroke-width="1.25" stroke-linejoin="round"/>
<path d="M512 123.4 L513.5 124.7 L515 119.9 L516.5 117.3 L518 110.5 L519.5 109 L521 98.3 L522.5 93.7 L524 80 L525.5 76.1 L527 63.8 L528.5 63.9 L530 57.9 L531.5 58.8 L533 54.7 L534.5 56.8 L536 54.1 L537.5 57.1 L539 53.4 L540.5 58.7 L542 56 L543.5 62.1 L545 60.4 L546.5 66.2 L548 69.2 L549.5 77.6 L551 82.8 L552.5 90.3 L554 91.2 L555.5 97.8 L557 99.6 L558.5 104.7 L560 103.2 L561.5 110.8 L563 108.6 L564.5 116.2 L566 115.3 L567.5 120.6 L569 120.7 L570.5 125.2 L572 127.4 L573.5 133 L575 132.2 L576.5 138.6 L578 135.8" fill="none" stroke="#0000ff" stroke-width="1.25" stroke-linejoin="round"/>
<path d="M512 123 L513.5 123.4 L515 116.7 L516.5 111.5 L518 101.9 L519.5 95.6 L521 82.6 L522.5 76.3 L524 67.5 L525.5 66.9 L527 58.3 L528.5 60.8 L530 56.7 L531.5 58.3 L533 54.8 L534.5 59.2 L536 57.1 L537.5 60.9 L539 58.1 L540.5 62.9 L542 62.6 L543.5 69.2 L545 70 L546.5 78.1 L548 80.8 L549.5 89.1 L551 90 L552.5 97.7 L554 97.6 L555.5 104.2 L557 103.4 L558.5 110 L560 109.9 L561.5 115.4 L563 115.5 L564.5 120.7 L566 120.4 L567.5 124.9 L569 125.2 L570.5 131.1 L572 130.2 L573.5 136.2 L575 134 L576.5 138.7 L578 136.8" fill="none" stroke="#0000ff" stroke-width="1.25" stroke-linejoin="round"/>
<path d="M512 124.2 L513.5 124.9 L515 119.1 L516.5 118 L518 110.5 L519.5 108.9 L521 97.1 L522.5 91.7 L524 77.4 L525.5 73.9 L527 63.4 L528.5 64.1 L530 57.4 L531.5 59.4 L533 55.6 L534.5 58.4 L536 53.5 L537.5 58.8 L539 56.2 L540.5 58.8 L542 58.5 L543.5 62.4 L545 62.5 L546.5 69.6 L548 69.7 L549.5 80.6 L551 82.1 L552.5 90.6 L554 92.9 L555.5 99.7 L557 99.6 L558.5 106 L560 105.3 L561.5 112.5 L563 110.8 L564.5 116.9 L566 115.3 L567.5 121.8 L569 121.6 L570.5 128 L572 126.9 L573.5 132.7 L575 132.6 L576.5 138.4 L578 137.7" fill="none" stroke="#0000ff" stroke-width="1.25" stroke-linejoin="round"/>
<path d="M512 123.5 L513.5 123.5 L515 116.1 L516.5 113.1 L518 101.1 L519.5 95.5 L521 82.9 L522.5 75.1 L524 64.2 L525.5 63 L527 55.3 L528.5 57.9 L530 53 L531.5 55.9 L533 51.8 L534.5 55.2 L536 52.1 L537.5 56.9 L539 55.5 L540.5 59.5 L542 59.2 L543.5 65.9 L545 67.8 L546.5 76 L548 78.9 L549.5 89.1 L551 89.9 L552.5 97.8 L554 98 L555.5 103.8 L557 104.5 L558.5 110.1 L560 109.5 L561.5 115.8 L563 115.3 L564.5 120.2 L566 120.5 L567.5 126.3 L569 124.4 L570.5 129.9 L572 129.4 L573.5 136.5 L575 134.3 L576.5 140 L578 137.5" fill="none" stroke="#0000ff" stroke-width="1.25" stroke-linejoin="round"/>
<path d="M512 122.3 L513.5 124.7 L515 116.1 L516.5 115.8 L518 105.8 L519.5 101.3 L521 88.1 L522.5 83.7 L524 71.6 L525.5 67.3 L527 61.3 L528.5 61.6 L530 56.5 L531.5 59.5 L533 55.2 L534.5 59 L536 54.8 L537.5 58.9 L539 57.3 L540.5 63.2 L542 60 L543.5 65.9 L545 66.6 L546.5 74.2 L548 78 L549.5 85.9 L551 87.3 L552.5 95.6 L554 96.6 L555.5 102.5 L557 102.3 L558.5 107.7 L560 108.1 L561.5 113.5 L563 114.3 L564.5 120.2 L566 117.8 L567.5 123.8 L569 123.3 L570.5 129.2 L572 129.3 L573.5 134.9 L575 134.2 L576.5 137.8 L578 137.1" fill="none" stroke="#0000ff" stroke-width="1.25" stroke-linejoin="round"/>
<path d="M512 123.3 L513.5 123.9 L515 118.9 L516.5 118.2 L518 109.5 L519.5 105.3 L521 94 L522.5 87.8 L524 76.1 L525.5 70 L527 63.6 L528.5 62.7 L530 56 L531.5 58.6 L533 53.6 L534.5 58.3 L536 55.3 L537.5 58.9 L539 56.5 L540.5 60.2 L542 58.3 L543.5 64.6 L545 62.2 L546.5 70.9 L548 71 L549.5 81.2 L551 84.4 L552.5 92.4 L554 92.5 L555.5 101.1 L557 100.1 L558.5 105.8 L560 105.9 L561.5 113.5 L563 111.8 L564.5 117.7 L566 116.7 L567.5 122.8 L569 122.3 L570.5 128.2 L572 127.8 L573.5 133 L575 133.3 L576.5 138.6 L578 136.9" fill="none" stroke="#0000ff" stroke-width="1.25" stroke-linejoin="round"/>
<path d="M512 123.2 L513.5 123.7 L515 117.1 L516.5 116 L518 107 L519.5 101.1 L521 89.6 L522.5 82.4 L524 69.9 L525.5 65.4 L527 57.4 L528.5 57.7 L530 51.7 L531.5 54.6 L533 50 L534.5 54.3 L536 51.1 L537.5 55.2 L539 51.2 L540.5 56.4 L542 54.4 L543.5 60.7 L545 61.5 L546.5 70.5 L548 73.6 L549.5 84.5 L551 87.5 L552.5 94.2 L554 94.8 L555.5 101.8 L557 101.5 L558.5 108.2 L560 106.1 L561.5 112.8 L563 112.5 L564.5 119.3 L566 118.2 L567.5 123.5 L569 123.3 L570.5 129 L572 128.3 L573.5 134.8 L575 133.8 L576.5 138.5 L578 137.9" fill="none" stroke="#0000ff" stroke-width="1.25" stroke-linejoin="round"/>
<path d="M512 123.3 L513.5 124.3 L515 116.6 L516.5 116.3 L518 107.2 L519.5 104.3 L521 91.8 L522.5 85.4 L524 72.9 L525.5 67.1 L527 58.6 L528.5 55.6 L530 51.3 L531.5 52.7 L533 50.2 L534.5 53.8 L536 49 L537.5 54.4 L539 51.7 L540.5 54.7 L542 53.6 L543.5 58.7 L545 59.9 L546.5 68.5 L548 71.5 L549.5 82.4 L551 85 L552.5 92.9 L554 94.6 L555.5 101.3 L557 100.9 L558.5 107.1 L560 106.3 L561.5 113.2 L563 111.4 L564.5 117.8 L566 116.8 L567.5 123.2 L569 122.3 L570.5 129.2 L572 127.7 L573.5 133.2 L575 133.5 L576.5 139.3 L578 137.7" fill="none" stroke="#0000ff" stroke-width="1.25" stroke-linejoin="round"/>
<path d="M512 127 L513.5 128 L515 122.8 L516.5 122.5 L518 117 L519.5 116 L521 111.2 L522.5 111.4 L524 105.4 L525.5 106.8 L527 103.4 L528.5 105 L530 99.2 L531.5 100.6 L533 95.5 L534.5 97.4 L536 92.1 L537.5 92.5 L539 88.8 L540.5 89.3 L542 84.9 L543.5 85.6 L545 82.7 L546.5 83.4 L548 79.1 L549.5 81.4 L551 78.2 L552.5 79.5 L554 76.4 L555.5 79.1 L557 75.5 L558.5 77.9 L560 75.8 L561.5 80.4 L563 80 L564.5 84.8 L566 85.8 L567.5 90.6 L569 91.3 L570.5 97.9 L572 99.8 L573.5 105 L575 107.1 L576.5 114.3 L578 116.2 L579.5 125.3 L581 127.7 L582.5 134.8 L584 135" fill="none" stroke="#0000ff" stroke-width="1.25" stroke-linejoin="round"/>
<path d="M512 127.3 L513.5 127.9 L515 122.1 L516.5 121.7 L518 117.1 L519.5 115.6 L521 111.1 L522.5 110.7 L524 106 L525.5 107.7 L527 101.9 L528.5 103.4 L530 99.3 L531.5 99.8 L533 95.4 L534.5 96.8 L536 92 L537.5 93.4 L539 88.8 L540.5 89.1 L542 85 L543.5 85.5 L545 81.7 L546.5 82.7 L548 78.5 L549.5 79.7 L551 76 L552.5 77.9 L554 74.1 L555.5 77.5 L557 74.4 L558.5 78.1 L560 75.2 L561.5 78.7 L563 78.8 L564.5 84.6 L566 84.2 L567.5 90.9 L569 90.7 L570.5 97.6 L572 97.5 L573.5 105.3 L575 107.7 L576.5 116.2 L578 117 L579.5 125.6 L581 128 L582.5 135 L584 135.6" fill="none" stroke="#0000ff" stroke-width="1.25" stroke-linejoin="round"/>
<path d="M512 126.9 L513.5 127.2 L515 122.4 L516.5 121.1 L518 116.9 L519.5 116.1 L521 111.5 L522.5 111.3 L524 106.3 L525.5 107.1 L527 102 L528.5 103.8 L530 99.1 L531.5 100.8 L533 95.2 L534.5 96.9 L536 91.8 L537.5 94 L539 88.6 L540.5 89.5 L542 84.5 L543.5 85.7 L545 82.2 L546.5 83.3 L548 80.4 L549.5 82.5 L551 79.4 L552.5 82.2 L554 78.2 L555.5 80.4 L557 76.9 L558.5 79.9 L560 77.1 L561.5 82 L563 79.9 L564.5 84.9 L566 85.9 L567.5 92 L569 90.8 L570.5 96.4 L572 97.4 L573.5 103.1 L575 104.2 L576.5 113 L578 113.5 L579.5 122.2 L581 124.8 L582.5 134.3 L584 134.7" fill="none" stroke="#0000ff" stroke-width="1.25" stroke-linejoin="round"/>
<path d="M512 126.6 L513.5 128 L515 121.5 L516.5 122.8 L518 116.5 L519.5 115.6 L521 110.9 L522.5 111.7 L524 106.6 L525.5 107.3 L527 103.4 L528.5 102.8 L530 99.1 L531.5 100.7 L533 96.1 L534.5 96.6 L536 92.4 L537.5 92.3 L539 88.4 L540.5 89 L542 84.4 L543.5 86.4 L545 82.4 L546.5 82.3 L548 79 L549.5 79.9 L551 75.8 L552.5 77.6 L554 72.7 L555.5 75.4 L557 73.6 L558.5 75.3 L560 73.7 L561.5 77.7 L563 78 L564.5 83 L566 83.7 L567.5 88.8 L569 91.1 L570.5 96.8 L572 97.8 L573.5 106.9 L575 108 L576.5 114.7 L578 118 L579.5 124.9 L581 127.2 L582.5 134.6 L584 135" fill="none" stroke="#0000ff" stroke-width="1.25" stroke-linejoin="round"/>
<path d="M512 126.9 L513.5 127 L515 122.4 L516.5 122.5 L518 116 L519.5 117.8 L521 110.9 L522.5 112.8 L524 106.3 L525.5 108.7 L527 102.7 L528.5 104.1 L530 99.1 L531.5 101.8 L533 94.6 L534.5 96.8 L536 93.1 L537.5 93.9 L539 88.5 L540.5 90 L542 85.5 L543.5 86.3 L545 81.3 L546.5 80.8 L548 76.2 L549.5 77.4 L551 73.3 L552.5 75.7 L554 71.7 L555.5 75.9 L557 73.2 L558.5 76.4 L560 73.9 L561.5 80.6 L563 78.6 L564.5 86.3 L566 85 L567.5 93.5 L569 94.8 L570.5 102.4 L572 102.4 L573.5 110.7 L575 112.6 L576.5 119 L578 120.3 L579.5 129.1 L581 130.3 L582.5 136.1 L584 137.1" fill="none" stroke="#0000ff" stroke-width="1.25" stroke-linejoin="round"/>
<path d="M512 127.8 L513.5 127.9 L515 122.2 L516.5 121.5 L518 115.5 L519.5 117.3 L521 111.4 L522.5 112.1 L524 105.5 L525.5 107.3 L527 102.6 L528.5 103.7 L530 100.1 L531.5 99.6 L533 95.1 L534.5 97 L536 92.4 L537.5 93.6 L539 88.5 L540.5 90 L542 85.1 L543.5 86.2 L545 82 L546.5 82 L548 78.8 L549.5 79.2 L551 75.4 L552.5 80.1 L554 76.6 L555.5 78.9 L557 76.6 L558.5 82.1 L560 80.6 L561.5 86 L563 85 L564.5 91.5 L566 91.4 L567.5 98.3 L569 99.6 L570.5 105.9 L572 107.5 L573.5 115.2 L575 117.9 L576.5 124.2 L578 126.5 L579.5 131.4 L581 132.2 L582.5 138.7 L584 136.3" fill="none" stroke="#0000ff" stroke-width="1.25" stroke-linejoin="round"/>
<path d="M406.5 166.3 L408 167.8 L409.1 166.5 L410.6 167.5 L411.5 166.5 L413.1 167.1 L414.2 166.5 L415.8 167.2 L416.7 166.2 L418.4 167 L419.5 165.9 L421 166.6 L422.1 165.3 L423.4 166.2 L424.9 165.4 L426.3 166.3 L427.2 164.9 L428.8 165.6 L430.1 164.5 L431 165.9 L432.6 164.4 L433.9 165.3 L435.3 164.2 L436.5 165.2 L437.5 163.8 L439 164.7 L440.3 163.2 L441.6 164.3 L443.1 163.2 L444.1 163.9 L445.4 162.1 L446.8 163.5 L448.2 162.1 L449.6 163 L450.7 161.8 L451.9 162.8 L453.5 161.6 L454.6 162.3 L456 161.3 L457.2 161.8 L458.4 159.8 L459.9 161.1 L461.2 160.4 L462.2 161.2 L463.7 159.4 L464.9 160.6 L466.1 159.2 L467.5 160.2 L469.1 158.1 L470.4 160.4 L471.4 158.5 L472.9 157.6 L473.9 153.8 L475.6 159.9 L476.7 155.6 L478.2 161.2 L479.2 148.1 L480.5 156.5 L481.8 146.7 L483.4 154.2 L484.5 145.7 L485.8 147.9 L487.3 141.8 L488.6 142.5 L489.6 135 L490.9 139.7 L492.5 133.7 L493.4 136.2 L494.8 130.3 L496.4 130.1 L497.7 124.9 L498.7 127.9 L499.9 119.5 L501.5 120.2 L502.8 106.7 L503.9 114.2 L505.3 107.8 L506.4 111.9 L508 104.2 L509.2 108.9 L510.6 95.8 L511.6 106 L513.2 93.2 L514.3 101.5 L515.7 92.7 L516.9 95.9 L518.4 92.2 L519.6 94.1 L521 90.2 L522 92.9 L523.4 88.1 L524.6 91.5 L526 84.6 L527.4 89.7 L528.5 86.2 L530.1 90.5 L531.3 79.2 L532.6 85.8 L534 83.5 L535.4 88.2 L536.5 78.1 L537.6 89.1 L538.9 84.8 L540.5 94.1 L541.6 85.5 L543.1 101.7 L544.3 92.3 L545.5 106.6 L547 107.3 L548 113.7 L549.4 105.5 L550.7 119.6 L552.1 111.8 L553.6 125.5 L554.9 115.3 L556.2 129.4 L557.4 125.9 L558.3 134.8 L559.8 129.3 L561.2 129.8 L562.7 128.6 L563.7 131.5 L565.1 129.5 L566.6 134.5 L567.6 131.7 L569.1 136.2 L570.3 135.2 L571.6 137.7 L573 137.9 L574.2 141 L575.3 138.9 L577 142.5 L578.3 141.1 L579.6 145.6 L580.6 144.4 L582.1 147.4 L583.4 146 L584.4 148.8 L586.1 147.8 L587 151.2 L588.7 151.4 L589.7 154.3 L591.3 153.1 L592.3 156 L593.7 156.3 L595.2 159.2 L596.6 158.5 L597.7 161.5 L599.1 160.6 L600.1 162.3 L601.6 161.1 L602.7 162.5 L604.3 161.4 L605.5 163.6 L606.6 162.6 L608.1 163.7 L609.1 162.8 L610.8 164.4 L612 162.5 L613.1 165 L614.6 164.4 L615.9 165.3 L617.2 164.8 L618.6 165.6 L619.7 164.1 L620.9 166.7 L622.2 165.5 L623.5 167.3 L624.9 165.7 L626.3 167.9 L627.7 166.7 L628.9 168 L630.2 167.5 L631.6 168.3 L632.8 166.8 L633.8 169.2 L635.4 167.8 L636.4 169.4 L638 168.1 L639.5 170.6 L640.5 169.3 L642 170.6 L642.9 169.1 L644.6 171 L645.5 169.7 L647.2 172.2 L648.2 171.3 L649.5 172.4 L650.7 170.7 L652 173.1 L653.6 172.4 L654.9 173.1 L655.9 171.6 L657.5 174.1 L658.6 172.7 L660.2 174.3 L661.1 173.8 L662.6 174.9 L664.1 174.4 L665.2 175.4 L666.6 174.7 L668 176.6 L669.2 174.4 L670.6 177 L671.7 175.4 L671.7 203.8 L670.6 202.5 L669.2 203.1 L668 202.6 L666.6 203.2 L665.2 202.5 L664.1 203.5 L662.6 202.4 L661.1 203.5 L660.2 202.3 L658.6 203.5 L657.5 202.4 L655.9 203.3 L654.9 202.2 L653.6 203.1 L652 202.2 L650.7 203 L649.5 202.3 L648.2 202.8 L647.2 202 L645.5 202.8 L644.6 202.2 L642.9 202.6 L642 201.9 L640.5 202.9 L639.5 202.2 L638 202.8 L636.4 202.3 L635.4 203.1 L633.8 202.2 L632.8 202.5 L631.6 202.2 L630.2 202.9 L628.9 202 L627.7 202.8 L626.3 201.8 L624.9 202 L623.5 201.5 L622.2 202.4 L620.9 201 L619.7 201.8 L618.6 200.5 L617.2 201.6 L615.9 200.6 L614.6 200.7 L613.1 200.3 L612 200.9 L610.8 199.6 L609.1 199.9 L608.1 199 L606.6 199.9 L605.5 198.8 L604.3 199 L602.7 197.7 L601.6 198.2 L600.1 197.5 L599.1 197.8 L597.7 197.1 L596.6 197.4 L595.2 196.5 L593.7 197 L592.3 196.3 L591.3 196.5 L589.7 195.9 L588.7 196 L587 195.3 L586.1 195.9 L584.4 194.8 L583.4 195.7 L582.1 194.1 L580.6 195.2 L579.6 193.8 L578.3 194.1 L577 193.5 L575.3 193.8 L574.2 192.9 L573 193.6 L571.6 192 L570.3 192.2 L569.1 190.7 L567.6 190.5 L566.6 189.7 L565.1 189.4 L563.7 188.5 L562.7 188.5 L561.2 187.1 L559.8 187.6 L558.3 186.2 L557.4 186 L556.2 185 L554.9 184.8 L553.6 183 L552.1 182.3 L550.7 180.5 L549.4 179.9 L548 177.8 L547 178.6 L545.5 177.4 L544.3 178.2 L543.1 177 L541.6 177.1 L540.5 176.5 L538.9 176.9 L537.6 175.7 L536.5 177 L535.4 175.8 L534 177.3 L532.6 176.2 L531.3 177.8 L530.1 176.9 L528.5 178.1 L527.4 177 L526 178.6 L524.6 178.4 L523.4 179.8 L522 179.5 L521 180.4 L519.6 180 L518.4 181.7 L516.9 181 L515.7 182.3 L514.3 182.4 L513.2 183.3 L511.6 183.3 L510.6 184.6 L509.2 184.7 L508 186 L506.4 185.6 L505.3 187.2 L503.9 187 L502.8 188 L501.5 187.9 L499.9 189.5 L498.7 188.9 L497.7 189.6 L496.4 189.6 L494.8 190.8 L493.4 190.4 L492.5 191.2 L490.9 191.2 L489.6 192.7 L488.6 191.7 L487.3 193.4 L485.8 192.8 L484.5 194.2 L483.4 193.3 L481.8 194.3 L480.5 194 L479.2 194.8 L478.2 194.1 L476.7 195.8 L475.6 195 L473.9 195.7 L472.9 195.2 L471.4 196.9 L470.4 195.7 L469.1 197.2 L467.5 196.3 L466.1 197.2 L464.9 196.8 L463.7 198 L462.2 197.4 L461.2 199.1 L459.9 198.1 L458.4 199.2 L457.2 198.5 L456 199.8 L454.6 199.5 L453.5 200.5 L451.9 199.7 L450.7 201.2 L449.6 200 L448.2 201 L446.8 200.8 L445.4 202.1 L444.1 201.2 L443.1 202.5 L441.6 201.6 L440.3 202.4 L439 201.8 L437.5 202.9 L436.5 202.2 L435.3 203.2 L433.9 202.7 L432.6 203.5 L431 202.9 L430.1 203.9 L428.8 203.1 L427.2 204.4 L426.3 203.6 L424.9 204.4 L423.4 203.6 L422.1 204.8 L421 203.7 L419.5 204.6 L418.4 204.3 L416.7 205.1 L415.8 204.5 L414.2 205 L413.1 204.7 L411.5 205.2 L410.6 204.6 L409.1 205.9 L408 204.8 L406.5 205.2Z" fill="#008000" stroke="#008000" stroke-width="0.6" stroke-linejoin="round"/>
<path d="M434.5 166L435.1 154.5L435.9 154.5L436.5 166ZM438.4 166L438.9 150.5L439.8 150.5L440.4 166ZM443 166L443.6 146L444.4 146L445 166ZM447.2 166L447.8 143.2L448.6 143.2L449.2 166ZM451 166L451.6 143.2L452.4 143.2L453 166ZM455.5 166L456.1 149L456.9 149L457.5 166ZM459.5 166L460.1 145L460.9 145L461.5 166ZM464 166L464.6 153L465.4 153L466 166ZM467.4 166L467.9 150.5L468.8 150.5L469.4 166ZM471.5 166L472.1 151L472.9 151L473.5 166ZM475.5 166L476.1 148L476.9 148L477.5 166ZM522.1 176L522.4 186L523.6 186L523.9 176ZM526.1 176L526.4 189L527.6 189L527.9 176ZM530.1 176L530.4 190L531.6 190L531.9 176ZM533.9 176L534.1 190L535.3 190L535.6 176ZM537.8 176L538 192.4L539.2 192.4L539.5 176ZM541.9 176L542.2 192.4L543.4 192.4L543.6 176ZM546.5 176L546.8 193.7L548 193.7L548.2 176ZM551.1 176L551.4 193.7L552.6 193.7L552.9 176Z" fill="#008000" stroke="#008000" stroke-width="0.5" stroke-linejoin="round"/>
<path d="M406.5 164.7 L408 165.5 L409.3 164.3 L410.4 165.4 L411.6 164.4 L412.8 165.2 L414.2 164.6 L415.6 164.8 L416.7 163.7 L418 164.6 L419.8 164 L420.9 164.4 L422 163.7 L423.4 164.3 L424.9 163.3 L426.2 163.6 L427.5 162.9 L428.5 163.3 L429.9 162.2 L431.3 163 L432.3 161.5 L433.8 162.5 L435 161.3 L436.6 161.9 L437.5 160.7 L439.1 161.2 L440.5 160 L441.5 161.1 L443.1 158.8 L444.4 160.1 L445.2 158.7 L446.9 159.9 L447.8 157.8 L449.4 158.6 L450.7 157.6 L451.8 158.2 L453.2 156.9 L454.8 158 L455.8 156.3 L457 157.2 L458.6 156.6 L459.8 156.8 L461.3 155.6 L462.3 156.4 L463.6 154.7 L465.2 155.8 L466.3 155.1 L467.6 155.5 L468.8 154.1 L469.9 155.2 L471.7 153.3 L472.6 154.3 L474.3 152 L475.3 153.2 L476.9 151.8 L477.9 152.2 L479.5 150.8 L480.6 153 L481.8 149.4 L483.3 153.7 L484.6 148.8 L485.9 151.7 L487.1 146.5 L488.3 148.4 L489.8 142.2 L490.8 146.9 L492.4 139.6 L493.7 142.5 L494.8 138.6 L496.4 139.8 L497.3 136.4 L498.7 138.8 L500.3 133 L501.3 135.4 L502.8 127.4 L504.1 132 L505.5 125.4 L506.9 127.6 L508 122.9 L509.4 123.7 L510.3 118.9 L511.9 121.2 L513.3 117.4 L514.3 120 L515.7 116.4 L517 116.9 L518.5 113.1 L519.5 114.5 L520.8 111.9 L521.9 115.1 L523.5 111.2 L524.9 113.6 L526.3 109.1 L527.6 111.9 L528.6 110.7 L530.3 112.2 L531.1 109.4 L532.8 111.6 L533.7 109.5 L535.2 112.6 L536.3 109.3 L538 112.6 L539.3 109.9 L540.2 113.6 L541.7 112.1 L542.9 114.3 L544.3 113.2 L545.6 114.7 L546.7 112.2 L548.4 116.2 L549.4 116.3 L550.8 118.7 L551.9 115.3 L553.1 120.5 L554.5 118 L555.9 123.3 L557.5 121.2 L558.8 124 L559.9 124 L561.2 125.6 L562.6 124.9 L564 128.3 L565 125.9 L566.6 131.1 L567.6 130 L569 133.7 L570.4 129.7 L571.6 135.6 L573 131.4 L574.3 137 L575.2 135.6 L576.6 138.2 L577.9 135.6 L579.3 140.6 L580.5 138.3 L581.8 143.5 L583.2 140.9 L584.7 146.6 L586.1 145.5 L587.1 148.6 L588.4 145.5 L589.8 150.5 L591.2 146.6 L592.5 151.2 L593.9 151.2 L594.9 154.2 L596.4 152.5 L597.5 156.5 L599.1 153 L600.1 155.7 L601.7 155.1 L602.8 157.4 L604.2 156.9 L605.4 159.2 L606.6 157.7 L608 160.5 L609.1 159.4 L610.4 162.2 L611.9 160.3 L613.2 162.4 L614.7 162.1 L615.6 163.2 L617.1 162.6 L618.4 164.4 L619.8 163.4 L621.1 165.5 L622.3 164 L623.6 166.4 L624.9 165.6 L626.3 166.5 L627.4 165.9 L628.8 167.5 L630.2 166.4 L631.2 167.9 L633 167.3 L634.1 168 L635.5 167.5 L636.5 168.5 L637.9 168.3 L639.1 169.5 L640.3 168 L641.5 169.6 L643 169 L644.6 170.1 L645.5 169.8 L647.1 170.7 L648.2 169.4 L649.4 170.8 L650.7 169.9 L652.3 170.8 L653.5 170.1 L654.8 171 L656.1 170 L657.3 171.4 L658.7 170.5 L660.2 171.3 L661.1 170.4 L662.7 171.9 L663.8 170.7 L665 172.1 L666.4 170.6 L667.6 172.3 L669.3 171.5 L670.3 172.1 L671.7 171 L671.7 200 L670.3 199.4 L669.3 200.6 L667.6 199.2 L666.4 199.8 L665 199.3 L663.8 199.6 L662.7 198.9 L661.1 200 L660.2 198.3 L658.7 199.1 L657.3 198.4 L656.1 199.3 L654.8 198.5 L653.5 199.8 L652.3 198.4 L650.7 199.5 L649.4 197.7 L648.2 199.3 L647.1 197.7 L645.5 199.3 L644.6 197.9 L643 198.1 L641.5 197.6 L640.3 197.8 L639.1 197.1 L637.9 198.5 L636.5 196.9 L635.5 197.6 L634.1 197 L633 197.5 L631.2 196.2 L630.2 197.7 L628.8 196.1 L627.4 196.8 L626.3 196.1 L624.9 196.6 L623.6 195.7 L622.3 197 L621.1 195.2 L619.8 196.2 L618.4 195.3 L617.1 196.9 L615.6 194.9 L614.7 196.2 L613.2 194.9 L611.9 195.6 L610.4 194.6 L609.1 195.7 L608 193.9 L606.6 195.3 L605.4 193.3 L604.2 193.6 L602.8 192.6 L601.7 193.8 L600.1 192 L599.1 193.4 L597.5 191.8 L596.4 192.4 L594.9 191.1 L593.9 192.7 L592.5 191 L591.2 192.1 L589.8 190.5 L588.4 191.4 L587.1 189.7 L586.1 189.7 L584.7 188.8 L583.2 189.4 L581.8 187.7 L580.5 189 L579.3 187.6 L577.9 188.4 L576.6 186.7 L575.2 187 L574.3 185.8 L573 186.5 L571.6 185 L570.4 186.2 L569 184.5 L567.6 184.8 L566.6 183.4 L565 183.1 L564 182.1 L562.6 182.2 L561.2 180.8 L559.9 181.2 L558.8 180.2 L557.5 181.1 L555.9 178.9 L554.5 179.1 L553.1 177.7 L551.9 178 L550.8 176.8 L549.4 177.2 L548.4 175.3 L546.7 176.8 L545.6 175.1 L544.3 176.5 L542.9 174.6 L541.7 175.7 L540.2 174.5 L539.3 175 L538 173.9 L536.3 174.8 L535.2 173.8 L533.7 175.1 L532.8 174.3 L531.1 175.8 L530.3 174.5 L528.6 175.4 L527.6 174.7 L526.3 176.3 L524.9 175.5 L523.5 176 L521.9 175.6 L520.8 176.9 L519.5 175.9 L518.5 176.9 L517 176.5 L515.7 177.7 L514.3 177.3 L513.3 178.2 L511.9 177.7 L510.3 178.9 L509.4 178.7 L508 179.6 L506.9 179.1 L505.5 180.3 L504.1 179.7 L502.8 180.9 L501.3 180.4 L500.3 181.9 L498.7 181 L497.3 183.3 L496.4 181.8 L494.8 183.9 L493.7 182.9 L492.4 183.9 L490.8 183.7 L489.8 185.4 L488.3 184.6 L487.1 186.6 L485.9 185 L484.6 186.7 L483.3 185.8 L481.8 188 L480.6 187 L479.5 188.1 L477.9 187.4 L476.9 189.4 L475.3 188.2 L474.3 190.1 L472.6 189.2 L471.7 190.8 L469.9 189.5 L468.8 191.4 L467.6 189.9 L466.3 191.2 L465.2 190.7 L463.6 192.4 L462.3 191.2 L461.3 192.3 L459.8 191.5 L458.6 192.8 L457 192.1 L455.8 192.9 L454.8 192.2 L453.2 193.6 L451.8 193.2 L450.7 194 L449.4 193.4 L447.8 195.1 L446.9 194.2 L445.2 195.2 L444.4 194.6 L443.1 195.6 L441.5 194.6 L440.5 196.4 L439.1 195 L437.5 195.9 L436.6 195.4 L435 197.3 L433.8 195.7 L432.3 197.1 L431.3 196.4 L429.9 197.7 L428.5 196.7 L427.5 198.2 L426.2 197 L424.9 198.7 L423.4 197.5 L422 198.5 L420.9 198 L419.8 199.2 L418 197.9 L416.7 199.7 L415.6 198.1 L414.2 199.2 L412.8 198.8 L411.6 199.6 L410.4 199.6 L409.3 201.4 L408 200.4 L406.5 202.4Z" fill="#ff0000" stroke="#ff0000" stroke-width="0.6" stroke-linejoin="round"/>
<path d="M406.5 159 L408.1 159.5 L409.7 159.1 L411.3 159.5 L412.9 158.9 L414.5 159.6 L416.1 159 L417.7 159.7 L419.3 159.1 L420.9 159.9 L422.5 159.2 L424.1 159.8 L425.7 159.3 L427.3 160.1 L428.9 159.7 L430.5 160.5 L432.1 159.9 L433.7 160.8 L435.3 160.2 L436.9 161.1 L438.5 160.6 L440.1 161 L441.7 160.4 L443.3 160.6 L444.9 159.7 L446.5 159.9 L448.1 158.9 L449.7 159.7 L451.3 158.6" fill="none" stroke="#ff0000" stroke-width="1.2" stroke-linejoin="round"/>
<path d="M406.5 161 L408.1 161.6 L409.7 161.1 L411.3 161.9 L412.9 161.2 L414.5 161.6 L416.1 161.2 L417.7 161.7 L419.3 161.1 L420.9 161.9 L422.5 161.3 L424.1 162.1 L425.7 161.4 L427.3 162.2 L428.9 161.4 L430.5 161.9 L432.1 161.5 L433.7 162 L435.3 161.2 L436.9 161.7 L438.5 160.5 L440.1 160.9 L441.7 160.1 L443.3 160.7 L444.9 159.9" fill="none" stroke="#ff0000" stroke-width="1.2" stroke-linejoin="round"/>
<path d="M406.5 203.8 L408.1 204.4 L409.7 203.2 L411.3 204.1 L412.9 203.1 L414.5 204 L416.1 202.7 L417.7 203.7 L419.3 202.4 L420.9 203.2 L422.5 202.1 L424.1 202.9 L425.7 201.7 L427.3 202.9 L428.9 201.8 L430.5 202.4 L432.1 201.4 L433.7 202 L435.3 201 L436.9 201.7 L438.5 200.6 L440.1 201.4 L441.7 200.1 L443.3 200.8 L444.9 199.7 L446.5 200.4 L448.1 199.1 L449.7 199.4 L451.3 198.6 L452.9 199.3 L454.5 198 L456.1 198.8 L457.7 197.5 L459.3 198.3 L460.9 196.6 L462.5 197.4 L464.1 196 L465.7 196.6 L467.3 195.1 L468.9 195.7 L470.5 194.2 L472.1 195 L473.7 193.5 L475.3 194 L476.9 192.8 L478.5 193.1 L480.1 191.8 L481.7 192.3 L483.3 191 L484.9 191.5 L486.5 190.2 L488.1 190.5 L489.7 189.4 L491.3 189.7 L492.9 188.5 L494.5 188.7" fill="none" stroke="#ff0000" stroke-width="1.2" stroke-linejoin="round"/>
<path d="M536 109.2 L537.6 111 L539.2 109.2 L540.8 111.5 L542.4 110.2 L544 112.2 L545.6 110.9 L547.2 113.2 L548.8 112.1 L550.4 114.2 L552 113.2 L553.6 115.2 L555.2 114.9 L556.8 116.3 L558.4 115.5 L560 117.6 L561.6 116.4 L563.2 118.2 L564.8 118 L566.4 120.1 L568 119.8 L569.6 121.5 L571.2 121.1 L572.8 123.5 L574.4 122.4 L576 125.2 L577.6 125 L579.2 127.5 L580.8 128 L582.4 130.6 L584 130.2 L585.6 133.3 L587.2 133.7 L588.8 135.9 L590.4 135.8 L592 138.5 L593.6 138.3 L595.2 141 L596.8 140.5 L598.4 143 L600 142.6 L601.6 145.9 L603.2 145.7 L604.8 147.7 L606.4 147.4 L608 150 L609.6 150.1 L611.2 151.8 L612.8 151.3 L614.4 153.1 L616 153 L617.6 154.8 L619.2 153.5 L620.8 156 L622.4 155.3 L624 156.4 L625.6 155.8 L627.2 157.6 L628.8 156.3 L630.4 158.4 L632 157.1 L633.6 158.8 L635.2 158 L636.8 160.4 L638.4 158.4 L640 160.4 L641.6 159.3 L643.2 161.5 L644.8 160 L646.4 162.1 L648 160.6 L649.6 161.8 L651.2 161.3 L652.8 162.5 L654.4 161.8 L656 163.1 L657.6 161.1 L659.2 162.5 L660.8 162.1 L662.4 163.3 L664 161.7 L665.6 163.6 L667.2 162.8 L668.8 164.4 L670.4 162.8 L672 164.5" fill="none" stroke="#ff0000" stroke-width="1.2" stroke-linejoin="round"/>
<path d="M541 111.5 L542.6 112.9 L544.2 111.7 L545.8 114.2 L547.4 113.2 L549 115.3 L550.6 114.5 L552.2 116.3 L553.8 115.6 L555.4 117.9 L557 117 L558.6 118.9 L560.2 118.1 L561.8 120.4 L563.4 119.6 L565 122.2 L566.6 121.4 L568.2 123.9 L569.8 123.4 L571.4 126.3 L573 125.4 L574.6 128.4 L576.2 127.7 L577.8 130.5 L579.4 130.4 L581 132.9 L582.6 132.9 L584.2 135.7 L585.8 135.3 L587.4 138.1 L589 138.5 L590.6 141 L592.2 141.3 L593.8 143.8 L595.4 144.1 L597 146.1 L598.6 145.9 L600.2 148.4 L601.8 147.8 L603.4 151.3 L605 150.8 L606.6 152.9 L608.2 152 L609.8 154.8 L611.4 153.8 L613 156.3 L614.6 155.7 L616.2 157.5 L617.8 156.8 L619.4 158.7 L621 157.1 L622.6 159.5 L624.2 158.3 L625.8 160.3 L627.4 159.2 L629 161.2 L630.6 160.5 L632.2 162.3 L633.8 161.6 L635.4 164 L637 162.2 L638.6 163.5 L640.2 162.7 L641.8 164.8 L643.4 163.4 L645 165.3 L646.6 164.2 L648.2 165.8 L649.8 164.3 L651.4 166.6 L653 164.6 L654.6 166.7 L656.2 165.6 L657.8 166.4 L659.4 165.7 L661 167.7 L662.6 165.8 L664.2 167.1 L665.8 166 L667.4 167.9 L669 166.2 L670.6 167.3" fill="none" stroke="#ff0000" stroke-width="1.2" stroke-linejoin="round"/>
<path d="M546 114.5 L547.6 116.3 L549.2 115.2 L550.8 117.5 L552.4 116.9 L554 118.4 L555.6 117.9 L557.2 120.6 L558.8 119 L560.4 122 L562 120.9 L563.6 122.9 L565.2 123.4 L566.8 125.4 L568.4 125.3 L570 128.1 L571.6 127.8 L573.2 130.3 L574.8 130.4 L576.4 132.3 L578 132.3 L579.6 135.3 L581.2 135.4 L582.8 137.7 L584.4 137.4 L586 140.3 L587.6 140.7 L589.2 144 L590.8 144 L592.4 146.3 L594 146.4 L595.6 148.4 L597.2 148.9 L598.8 151.4 L600.4 151.8 L602 153.7 L603.6 153.2 L605.2 155.5 L606.8 155.3 L608.4 157.2 L610 157.4 L611.6 159.4 L613.2 158.6 L614.8 160.2 L616.4 160 L618 161.5 L619.6 160.6 L621.2 162.4 L622.8 161.3 L624.4 163.6 L626 163 L627.6 164.3 L629.2 163.5 L630.8 165.6 L632.4 164.4 L634 166.1 L635.6 165.2 L637.2 167.3 L638.8 166.1 L640.4 167.2 L642 165.7 L643.6 168.1 L645.2 166.9 L646.8 168.6 L648.4 167.2 L650 168.4 L651.6 167.9 L653.2 168.8 L654.8 168.4 L656.4 169.5 L658 168.3 L659.6 169.4 L661.2 168.3 L662.8 169.9 L664.4 168.6 L666 170.2 L667.6 169 L669.2 170.3 L670.8 169" fill="none" stroke="#ff0000" stroke-width="1.2" stroke-linejoin="round"/>
<path d="M538 150l2-4 1.5 3 2-5 1.5 4 2-3 1 4 2 2M541 156l2-3 2 3 2-2 2 4 2-1 1.5 3M588.6 146l1.5-4 1 3M597 157l2-3 2 3" fill="none" stroke="#008000" stroke-width="1.3" stroke-linejoin="round"/>
<path d="M406.8 159V205" stroke="#ff0000" stroke-width="1.2" fill="none"/>
<path d="M393.5 3.5h-2.9M393.5 34.3h-2.9M393.5 65.2h-2.9M393.5 96h-2.9M393.5 126.9h-2.9M393.5 157.8h-2.9M393.5 188.6h-2.9M393.5 219.5h-2.9M406.7 219.5v2.9M471.4 219.5v2.9M536.3 219.5v2.9M600.2 219.5v2.9M671.4 219.5v2.9" stroke="#000" stroke-width="0.8" fill="none"/>
<rect x="393.5" y="3.5" width="291" height="216.1" fill="none" stroke="#000" stroke-width="0.8"/>
<text x="387.8" y="6.8" text-anchor="end">−82</text>
<text x="387.8" y="37.7" text-anchor="end">−83</text>
<text x="387.8" y="68.5" text-anchor="end">−84</text>
<text x="387.8" y="99.4" text-anchor="end">−85</text>
<text x="387.8" y="130.3" text-anchor="end">−86</text>
<text x="387.8" y="161.1" text-anchor="end">−87</text>
<text x="387.8" y="192" text-anchor="end">−88</text>
<text x="387.8" y="222.8" text-anchor="end">−89</text>
<text x="406.7" y="232.7" text-anchor="middle">0</text>
<text x="471.4" y="232.7" text-anchor="middle">200</text>
<text x="536.3" y="232.7" text-anchor="middle">400</text>
<text x="600.2" y="232.7" text-anchor="middle">600</text>
<text x="671.4" y="232.7" text-anchor="middle">800</text>
<rect x="564.4" y="7.2" width="116.1" height="38.8" rx="1.6" fill="#fff" fill-opacity="0.8" stroke="#c4c4c4" stroke-width="0.8"/>
<path d="M567.1 13.9h17.8" stroke="#0000ff" stroke-width="1.2"/>
<text x="591" y="16.8">Solution_test (actual)</text>
<path d="M567.1 25.9h17.8" stroke="#008000" stroke-width="1.2"/>
<text x="591" y="28.8">Gel (generated)</text>
<path d="M567.1 37.8h17.8" stroke="#ff0000" stroke-width="1.2"/>
<text x="591" y="40.7">Gel_test (actual)</text>
<text transform="translate(366.7 111.2) rotate(-90)" text-anchor="middle">Phase Angle</text>
</g>
<text class="cap" x="177.1" y="270.6" text-anchor="middle">(a)</text>
<text class="cap" x="534.3" y="270.6" text-anchor="middle">(b)</text>
</svg>
</body></html>
